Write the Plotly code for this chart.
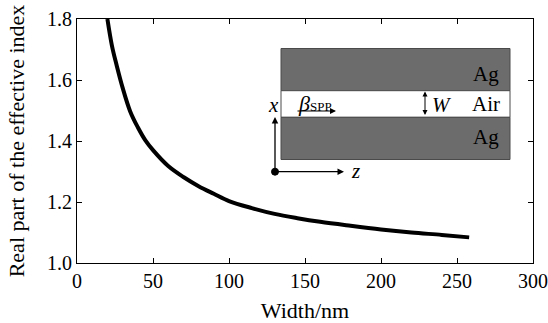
import plotly.graph_objects as go

# Data
width_nm = [20, 23, 26, 30, 35, 40, 45, 50, 60, 70, 80, 90, 100, 115, 130, 145, 160, 180, 200, 220, 240, 258]
neff_real = [1.800, 1.712, 1.650, 1.575, 1.497, 1.445, 1.402, 1.370, 1.318, 1.282, 1.252, 1.227, 1.203, 1.180,
             1.161, 1.147, 1.135, 1.122, 1.110, 1.100, 1.092, 1.084]

x_ticks = [0, 50, 100, 150, 200, 250, 300]
y_ticks = [1.0, 1.2, 1.4, 1.6, 1.8]
y_tick_text = ["1.0", "1.2", "1.4", "1.6", "1.8"]

FONT = "Liberation Serif, Times New Roman, serif"

# plot area in pixels
L, R, T, B = 77, 533, 19, 263
W_px, H_px = 548, 323


def dx(px):
    return (px - L) / (R - L) * 300


def dy(py):
    return 1.0 + (B - py) / (B - T) * 0.8


fig = go.Figure()
fig.add_trace(go.Scatter(x=width_nm, y=neff_real, mode="lines",
                         line=dict(color="black", width=4, shape="spline"),
                         showlegend=False, hoverinfo="skip"))

shapes = []
gray = "#6c6c6c"
edge = "#4a4a4a"
# top Ag
shapes.append(dict(type="rect", xref="x", yref="y", x0=dx(281), x1=dx(510), y0=dy(48.5), y1=dy(90.7),
                   fillcolor=gray, line=dict(color=edge, width=1), layer="above"))
# air
shapes.append(dict(type="rect", xref="x", yref="y", x0=dx(281), x1=dx(510), y0=dy(90.7), y1=dy(117.3),
                   fillcolor="white", line=dict(color=edge, width=1), layer="above"))
# bottom Ag
shapes.append(dict(type="rect", xref="x", yref="y", x0=dx(281), x1=dx(510), y0=dy(117.3), y1=dy(159.5),
                   fillcolor=gray, line=dict(color=edge, width=1), layer="above"))
# origin dot
shapes.append(dict(type="circle", xref="x", yref="y", x0=dx(271.5), x1=dx(278.5), y0=dy(168.2), y1=dy(175.2),
                   fillcolor="black", line=dict(color="black", width=1), layer="above"))

annotations = []


def arrow(hx, hy, tx, ty, side="end", w=1.3):
    annotations.append(dict(x=dx(hx), y=dy(hy), xref="x", yref="y", text="", showarrow=True,
                            ax=tx - hx, ay=ty - hy, axref="pixel", ayref="pixel",
                            arrowhead=2, arrowsize=1, arrowwidth=w, arrowcolor="black",
                            arrowside=side, standoff=0, startstandoff=0))


arrow(275, 117, 275, 171.7)          # x axis arrow
arrow(344, 171.7, 275, 171.7)        # z axis arrow
arrow(336, 111, 296, 111, w=1.2)     # beta arrow
arrow(425, 91.5, 425, 116.5, side="end+start", w=1.0)  # W arrow


def label(px, py, text, size=21):
    annotations.append(dict(x=dx(px), y=dy(py), xref="x", yref="y", text=text, showarrow=False,
                            font=dict(family=FONT, size=size, color="black"), xanchor="center", yanchor="middle"))


label(486, 74, "Ag")
label(486, 104, "Air")
label(486, 137, "Ag")
label(442, 105, "<i>W</i>")
label(273, 105, "<i>x</i>")
label(355, 171, "<i>z</i>")
annotations.append(dict(x=dx(296), y=dy(103), xref="x", yref="y",
                        text="<i>β</i><span style='font-size:13px'>SPP</span>", showarrow=False,
                        font=dict(family=FONT, size=22, color="black"), xanchor="left", yanchor="middle"))

fig.update_layout(
    width=W_px, height=H_px,
    margin=dict(l=L, r=W_px - R, t=T, b=H_px - B, autoexpand=False),
    paper_bgcolor="white", plot_bgcolor="white",
    font=dict(family=FONT, size=20, color="black"),
    shapes=shapes, annotations=annotations,
    xaxis=dict(range=[0, 300], tickvals=x_ticks, ticks="inside", ticklen=5, tickwidth=1, tickcolor="black",
               showline=True, linecolor="black", linewidth=1, mirror="ticks", showgrid=False, zeroline=False,
               automargin=False,
               title=dict(text="Width/nm", font=dict(size=22), standoff=13),
               tickfont=dict(size=20)),
    yaxis=dict(range=[1.0, 1.8], tickvals=y_ticks, ticktext=y_tick_text, ticks="inside", ticklen=5, tickwidth=1,
               tickcolor="black", showline=True, linecolor="black", linewidth=1, mirror="ticks", showgrid=False,
               zeroline=False, automargin=False,
               title=dict(text="Real part of the effective index", font=dict(size=22), standoff=16),
               tickfont=dict(size=20)),
)

fig.write_html("out.html")
